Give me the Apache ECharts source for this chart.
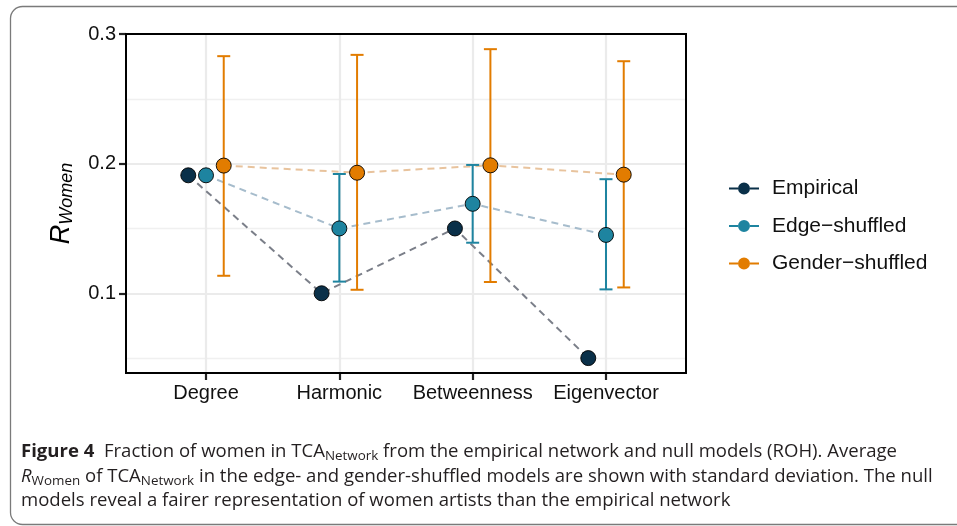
<!DOCTYPE html>
<html>
<head>
<meta charset="utf-8">
<script src="https://cdn.jsdelivr.net/npm/echarts@6/dist/echarts.min.js"></script>
<style>
html,body{margin:0;padding:0;background:#fff;}
#chart{width:957px;height:526px;}
</style>
</head>
<body>
<div id="chart"></div>
<script>
// ---------- data ----------
const categories = ['Degree', 'Harmonic', 'Betweenness', 'Eigenvector'];
const seriesNames = ['Empirical', 'Edge\u2212shuffled', 'Gender\u2212shuffled'];
const empirical = [0.191, 0.100, 0.150, 0.050];
const edgeMean = [0.191, 0.150, 0.169, 0.145];
const edgeLow = [0.191, 0.109, 0.139, 0.103];
const edgeHigh = [0.191, 0.192, 0.199, 0.188];
const genderMean = [0.1985, 0.193, 0.1987, 0.1915];
const genderLow = [0.1135, 0.1027, 0.1087, 0.1045];
const genderHigh = [0.2829, 0.2839, 0.2883, 0.279];
const yTicks = [0.1, 0.2, 0.3];
const yMinorGrid = [0.05, 0.15, 0.25];
const xTicks = [0, 1, 2, 3];

// ---------- styling ----------
const pointColors = ['#0a3049', '#1e84a0', '#e27c00'];
const lineColors = ['#7b7f89', '#a6bccc', '#e8c39d'];
const dodge = [-0.133, 0, 0.133];
const FONT = '"Liberation Sans", Arial, sans-serif';
const GRID = { left: 126, top: 34, width: 560, height: 339 };

const chart = echarts.init(document.getElementById('chart'));

function pts(vals, g) { return vals.map((v, i) => [i + dodge[g], v]); }

function errorBarRender(color) {
  return function (params, api) {
    const x = api.value(0), lo = api.value(1), hi = api.value(2);
    const pLo = api.coord([x, lo]), pHi = api.coord([x, hi]);
    const hw = 6.5;
    const style = { stroke: color, lineWidth: 2, fill: null };
    return {
      type: 'group', children: [
        { type: 'line', shape: { x1: pLo[0], y1: pLo[1], x2: pHi[0], y2: pHi[1] }, style },
        { type: 'line', shape: { x1: pLo[0] - hw, y1: pLo[1], x2: pLo[0] + hw, y2: pLo[1] }, style },
        { type: 'line', shape: { x1: pHi[0] - hw, y1: pHi[1], x2: pHi[0] + hw, y2: pHi[1] }, style }
      ]
    };
  };
}

const means = [empirical, edgeMean, genderMean];
const series = [];
means.forEach((m, g) => {
  series.push({
    name: seriesNames[g] + ' line', type: 'line', data: pts(m, g), symbol: 'none', z: 1,
    lineStyle: { color: lineColors[g], width: 2, type: [7, 5] }, silent: true, animation: false
  });
});
[[edgeLow, edgeHigh, 1], [genderLow, genderHigh, 2]].forEach(([lo, hi, g]) => {
  series.push({
    name: seriesNames[g] + ' sd', type: 'custom', z: 2, animation: false,
    renderItem: errorBarRender(pointColors[g]),
    encode: { x: 0, y: [1, 2] },
    data: lo.map((v, i) => [i + dodge[g], v, hi[i]])
  });
});
means.forEach((m, g) => {
  series.push({
    name: seriesNames[g], type: 'scatter', data: pts(m, g), z: 3, symbolSize: 15, animation: false,
    itemStyle: { color: pointColors[g], borderColor: '#000', borderWidth: 0.9, opacity: 1 }
  });
});

// ---------- caption layout ----------
const capFamily = '"Open Sans"';
const capSize = 18, subSize = 13;
const capLines = [
  [{ t: 'Figure 4', w: 'bold' }, { t: '  Fraction of women in TCA' }, { t: 'Network', sub: true }, { t: ' from the empirical network and null models (ROH). Average' }],
  [{ t: 'R', i: true }, { t: 'Women', sub: true }, { t: ' of TCA' }, { t: 'Network', sub: true }, { t: ' in the edge- and gender-shuffled models are shown with standard deviation. The null' }],
  [{ t: 'models reveal a fairer representation of women artists than the empirical network' }]
];
const capY = [452, 476.5, 501];
const ctx = document.createElement('canvas').getContext('2d');
function fontStr(f) { return (f.i ? 'italic ' : 'normal ') + (f.w || 'normal') + ' ' + (f.sub ? subSize : capSize) + 'px ' + capFamily; }
function measure(f) { ctx.font = fontStr(f); return ctx.measureText(f.t).width; }
const line1W = capLines[0].reduce((s, f) => s + measure(f), 0);
const capScale = (897 - 21) / line1W;
const capGraphics = capLines.map((line, li) => {
  let x = 0;
  const children = line.map(f => {
    const el = {
      type: 'text', x: x, y: f.sub ? 4.5 : 0,
      style: {
        text: f.t, fill: '#231f20', fontFamily: capFamily, fontSize: f.sub ? subSize : capSize,
        fontWeight: f.w || 'normal', fontStyle: f.i ? 'italic' : 'normal', verticalAlign: 'middle', align: 'left'
      }
    };
    x += measure(f);
    return el;
  });
  return { type: 'group', x: 21, y: capY[li], scaleX: capScale, children };
});

const option = {
  animation: false,
  backgroundColor: '#fff',
  grid: Object.assign({ show: false, containLabel: false }, GRID),
  xAxis: {
    type: 'value', min: -0.6, max: 3.6,
    axisLine: { show: true, onZero: false, lineStyle: { color: '#000', width: 2 } },
    axisTick: { show: true, customValues: xTicks, length: 7, lineStyle: { color: '#222', width: 2.2 } },
    axisLabel: { customValues: xTicks, formatter: v => categories[Math.round(v)], fontSize: 20, color: '#111', fontFamily: FONT, margin: 10 },
    splitLine: { show: true, lineStyle: { color: '#ebebeb', width: 2.2 } }
  },
  yAxis: [{
    type: 'value', min: 0.0385, max: 0.3,
    axisLine: { show: true, onZero: false, lineStyle: { color: '#000', width: 2 } },
    axisTick: { show: true, customValues: yTicks, length: 7, lineStyle: { color: '#222', width: 2.2 } },
    axisLabel: { customValues: yTicks, formatter: v => v.toFixed(1), fontSize: 20, color: '#111', fontFamily: FONT, margin: 10 },
    splitLine: { show: true, lineStyle: { color: '#ebebeb', width: 2.2 } },
    name: '{r|R}{s|Women}', nameLocation: 'middle', nameRotate: 90, nameGap: 50,
    nameTextStyle: {
      rich: {
        r: { fontSize: 27, fontStyle: 'italic', fontFamily: FONT, color: '#000', lineHeight: 30 },
        s: { fontSize: 18, fontStyle: 'italic', fontFamily: FONT, color: '#000', lineHeight: 10, verticalAlign: 'bottom' }
      }
    }
  }, {
    type: 'value', min: 0.0385, max: 0.3, position: 'right',
    axisLine: { show: false, onZero: false }, axisLabel: { show: false },
    axisTick: { show: false, customValues: yMinorGrid },
    splitLine: { show: true, lineStyle: { color: '#f0f0f0', width: 1.3 } }
  }],
  legend: {
    data: seriesNames, orient: 'vertical', left: 724, top: 173, itemGap: 16.5,
    itemWidth: 30, itemHeight: 12, selectedMode: false,
    icon: 'path://M0,5L9,5L9,7L0,7Z M21,5L30,5L30,7L21,7Z M9,6A6,6 0 1 1 21,6A6,6 0 1 1 9,6Z',
    itemStyle: { borderWidth: 0 },
    textStyle: { fontSize: 21, lineHeight: 20, color: '#111', fontFamily: FONT, padding: [0, 0, 0, 8] }
  },
  graphic: [
    { type: 'rect', shape: { x: 10.5, y: 6.5, width: 1000, height: 518, r: 12 }, style: { fill: 'transparent', stroke: '#7a7a7a', lineWidth: 1.3 }, z: -10, silent: true },
    { type: 'rect', shape: { x: GRID.left, y: GRID.top, width: GRID.width, height: GRID.height }, style: { fill: 'transparent', stroke: '#000', lineWidth: 2 }, z: 50, silent: true },
    ...capGraphics
  ],
  series
};
chart.setOption(option);
</script>
</body>
</html>
